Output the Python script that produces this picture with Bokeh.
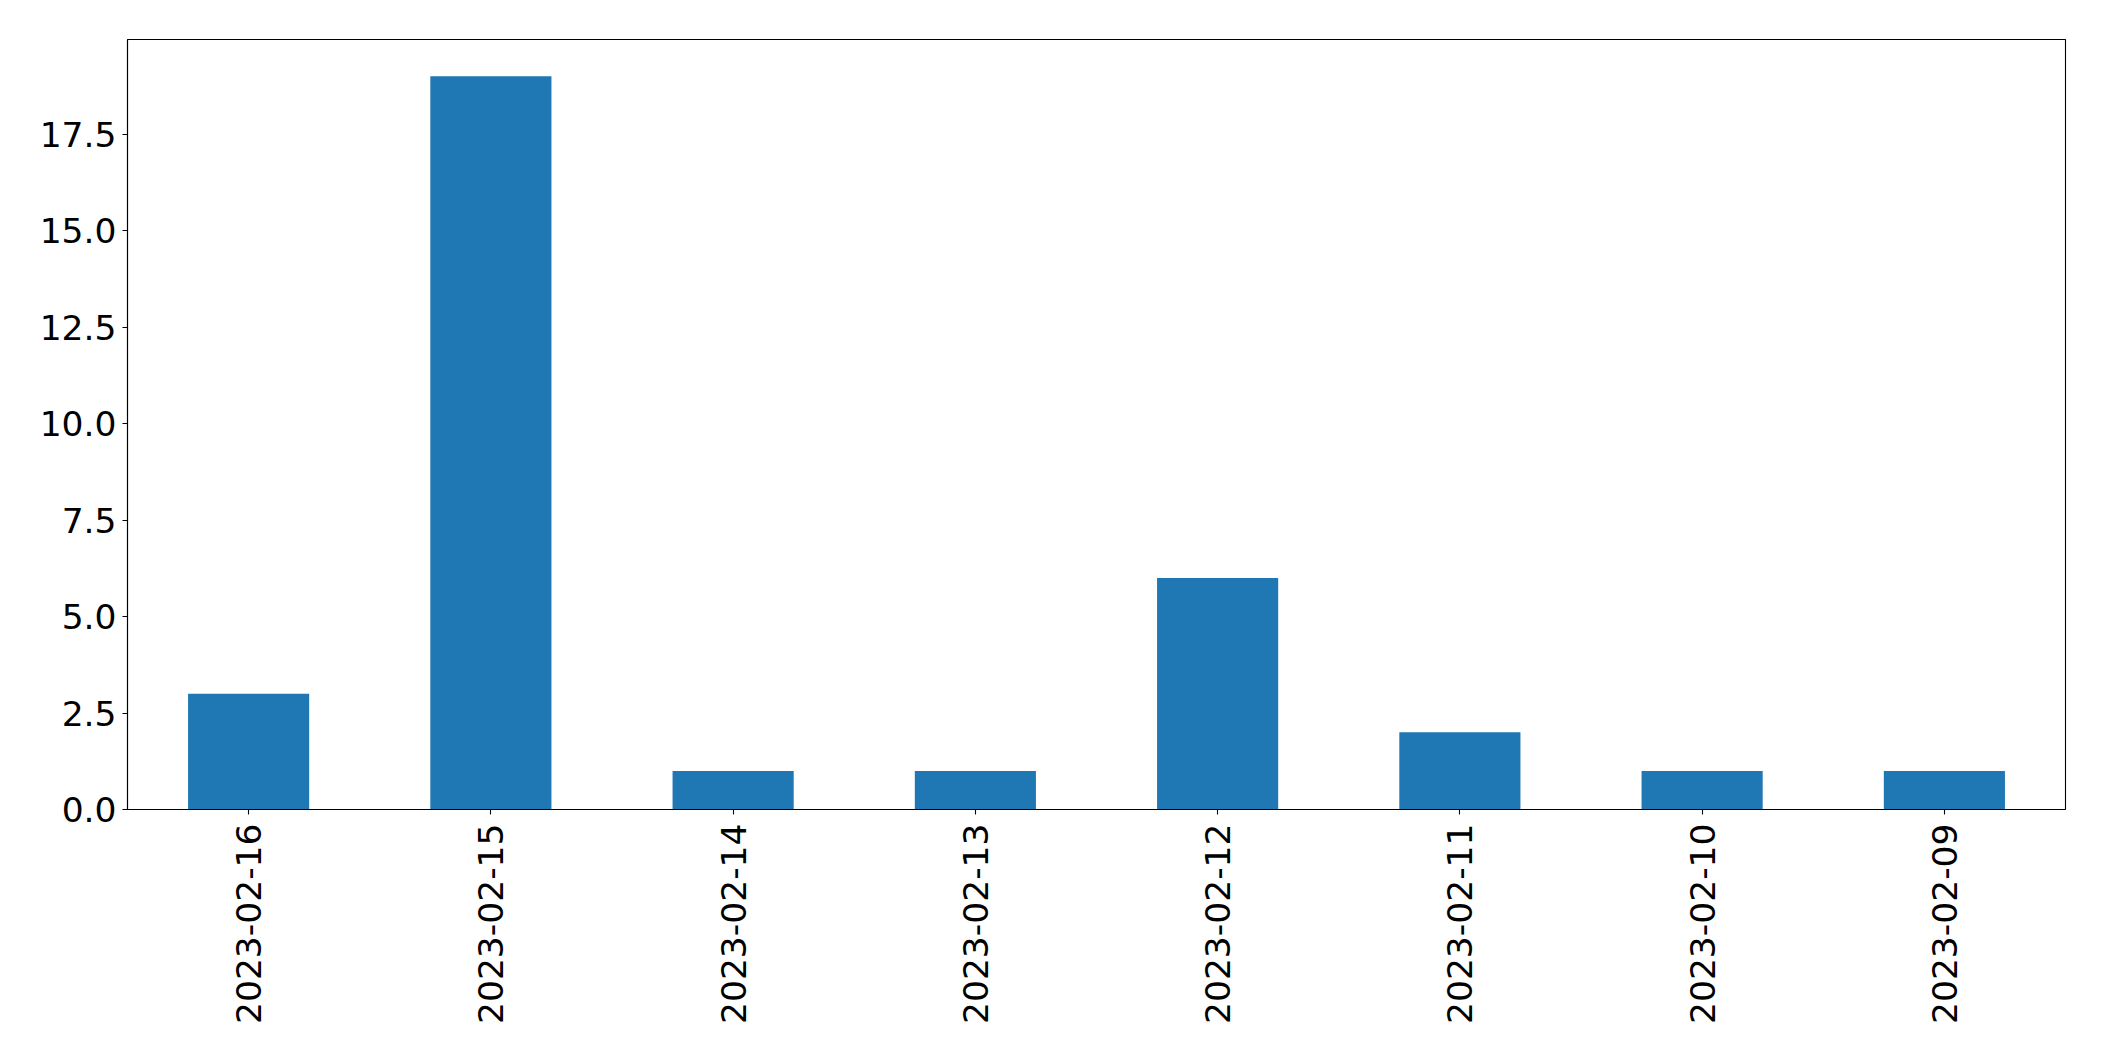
import math
from bokeh.plotting import figure
from bokeh.models import FactorRange, Range1d, FixedTicker, PrintfTickFormatter, ColumnDataSource
from bokeh.embed import file_html
from bokeh.resources import INLINE

dates = ["2023-02-16", "2023-02-15", "2023-02-14", "2023-02-13",
         "2023-02-12", "2023-02-11", "2023-02-10", "2023-02-09"]
counts = [3, 19, 1, 1, 6, 2, 1, 1]
y_ticks = [0, 2.5, 5.0, 7.5, 10.0, 12.5, 15.0, 17.5]

src = ColumnDataSource(data=dict(x=dates, top=counts))

p = figure(x_range=FactorRange(*dates), y_range=Range1d(0, 19.95),
           frame_width=1938, frame_height=770,
           min_border_left=127, min_border_top=39, min_border_right=30, min_border_bottom=200,
           output_backend="svg", toolbar_location=None,
           background_fill_color="white", border_fill_color="white")

p.vbar(x="x", top="top", width=0.5, source=src, fill_color="#1f77b4", line_color=None)

p.xgrid.visible = False
p.ygrid.visible = False
p.outline_line_color = "black"
p.outline_line_width = 1.1
p.outline_line_alpha = 1.0

for ax in (p.xaxis[0], p.yaxis[0]):
    ax.axis_line_color = "black"
    ax.axis_line_width = 1.1
    ax.major_tick_line_color = "black"
    ax.major_tick_line_width = 1.1
    ax.major_tick_out = 5
    ax.major_tick_in = 0
    ax.minor_tick_line_color = None
    ax.major_label_text_font = "DejaVu Sans"
    ax.major_label_text_font_size = "34.5px"
    ax.major_label_text_color = "black"

p.yaxis[0].ticker = FixedTicker(ticks=y_ticks)
p.yaxis[0].formatter = PrintfTickFormatter(format="%.1f")
p.yaxis[0].major_label_standoff = 6

p.xaxis[0].major_label_orientation = math.pi / 2
p.xaxis[0].major_label_standoff = 9

open("out.html", "w").write(file_html(p, INLINE))
